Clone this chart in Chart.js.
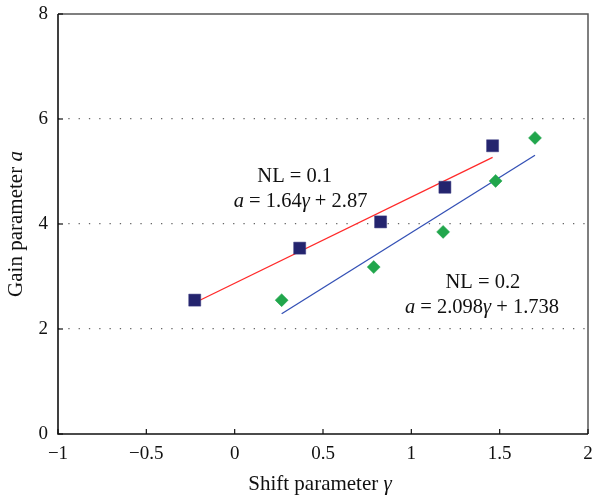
<!DOCTYPE html>
<html>
<head>
<meta charset="utf-8">
<script src="https://cdn.jsdelivr.net/npm/chart.js@4/dist/chart.umd.min.js"></script>
<style>
  html, body { margin: 0; padding: 0; background: #fff; }
  #wrap { width: 592px; height: 499px; position: relative; }
</style>
</head>
<body>
<div id="wrap"><canvas id="gainChart"></canvas></div>
<script>
// ===== DATA =====
const nl01Shift = [-0.226, 0.368, 0.826, 1.19, 1.46];
const nl01Gain  = [2.55, 3.54, 4.04, 4.70, 5.49];
const nl02Shift = [0.266, 0.787, 1.18, 1.477, 1.70];
const nl02Gain  = [2.55, 3.18, 3.85, 4.82, 5.64];

// fitted line end points
const fit01Shift = [-0.226, 1.46];
const fit01Gain  = [2.50, 5.27];
const fit02Shift = [0.266, 1.70];
const fit02Gain  = [2.29, 5.31];

const xTicks = [-1, -0.5, 0, 0.5, 1, 1.5, 2];
const yTicks = [0, 2, 4, 6, 8];

const SERIF = '"Liberation Serif", "DejaVu Serif", serif';

function toPoints(xs, ys) {
    return xs.map((x, i) => ({ x: x, y: ys[i] }));
}

function fmtTick(v) {
    return v < 0 ? '\u2212' + String(-v) : String(v);
}

// draw a line of text made of normal / italic runs, centered at x
function drawRuns(ctx, runs, cx, y, size) {
    let total = 0;
    const widths = runs.map(r => {
        ctx.font = (r[1] ? 'italic ' : '') + size + 'px ' + SERIF;
        const w = ctx.measureText(r[0]).width;
        total += w;
        return w;
    });
    let x = cx - total / 2;
    runs.forEach((r, i) => {
        ctx.font = (r[1] ? 'italic ' : '') + size + 'px ' + SERIF;
        ctx.fillText(r[0], x, y);
        x += widths[i];
    });
}

// ===== FRAME, TICKS, TITLES, ANNOTATIONS =====
const framePlugin = {
    id: 'frame',
    afterDraw(chart) {
        const { ctx, chartArea: a, scales } = chart;
        ctx.save();

        // top / right border (grey)
        ctx.strokeStyle = '#555';
        ctx.lineWidth = 1.5;
        ctx.beginPath();
        ctx.moveTo(a.left, a.top);
        ctx.lineTo(a.right, a.top);
        ctx.lineTo(a.right, a.bottom);
        ctx.stroke();

        // left / bottom axes (black)
        ctx.strokeStyle = '#111';
        ctx.lineWidth = 1.6;
        ctx.beginPath();
        ctx.moveTo(a.left, a.top);
        ctx.lineTo(a.left, a.bottom);
        ctx.lineTo(a.right, a.bottom);
        ctx.stroke();

        // inward tick marks
        ctx.lineWidth = 1.2;
        xTicks.forEach(v => {
            const px = scales.x.getPixelForValue(v);
            ctx.beginPath();
            ctx.moveTo(px, a.bottom);
            ctx.lineTo(px, a.bottom - 5);
            ctx.stroke();
        });
        yTicks.forEach(v => {
            const py = scales.y.getPixelForValue(v);
            ctx.beginPath();
            ctx.moveTo(a.left, py);
            ctx.lineTo(a.left + 5, py);
            ctx.stroke();
        });

        // axis titles
        ctx.fillStyle = '#111';
        ctx.textBaseline = 'alphabetic';
        ctx.textAlign = 'left';
        drawRuns(ctx, [['Shift parameter ', false], ['\u03b3', true]], 320, 490, 21);

        ctx.save();
        ctx.translate(22, (a.top + a.bottom) / 2);
        ctx.rotate(-Math.PI / 2);
        drawRuns(ctx, [['Gain parameter ', false], ['a', true]], 0, 0, 21);
        ctx.restore();

        // fit annotations
        const sx = scales.x, sy = scales.y;
        drawRuns(ctx, [['NL = 0.1', false]], sx.getPixelForValue(0.34), sy.getPixelForValue(4.8), 20.5);
        drawRuns(ctx, [['a', true], [' = 1.64', false], ['\u03b3', true], [' + 2.87', false]],
            sx.getPixelForValue(0.373), sy.getPixelForValue(4.32), 20.5);
        drawRuns(ctx, [['NL = 0.2', false]], sx.getPixelForValue(1.405), sy.getPixelForValue(2.78), 20.5);
        drawRuns(ctx, [['a', true], [' = 2.098', false], ['\u03b3', true], [' + 1.738', false]],
            sx.getPixelForValue(1.40), sy.getPixelForValue(2.30), 20.5);

        ctx.restore();
    }
};

// ===== CHART =====
const ctx = document.getElementById('gainChart');
new Chart(ctx, {
    type: 'scatter',
    data: {
        datasets: [
            {
                label: 'fit NL = 0.1',
                data: toPoints(fit01Shift, fit01Gain),
                showLine: true,
                borderColor: '#ff2a2a',
                borderWidth: 1.3,
                pointRadius: 0,
                order: 2
            },
            {
                label: 'fit NL = 0.2',
                data: toPoints(fit02Shift, fit02Gain),
                showLine: true,
                borderColor: '#3350b5',
                borderWidth: 1.3,
                pointRadius: 0,
                order: 2
            },
            {
                label: 'NL = 0.1',
                data: toPoints(nl01Shift, nl01Gain),
                pointStyle: 'rect',
                pointRadius: 8.5,
                backgroundColor: '#24246e',
                borderColor: '#3a3a80',
                borderWidth: 0.5,
                order: 1
            },
            {
                label: 'NL = 0.2',
                data: toPoints(nl02Shift, nl02Gain),
                pointStyle: 'rectRot',
                pointRadius: 6.5,
                backgroundColor: '#21a64c',
                borderColor: '#21a64c',
                borderWidth: 0.5,
                order: 1
            }
        ]
    },
    options: {
        responsive: true,
        maintainAspectRatio: false,
        animation: false,
        layout: { padding: { top: 14, right: 4, left: 0, bottom: 0 }, autoPadding: false },
        plugins: {
            legend: { display: false },
            tooltip: { enabled: false }
        },
        scales: {
            x: {
                type: 'linear',
                min: -1,
                max: 2,
                afterBuildTicks: s => { s.ticks = xTicks.map(v => ({ value: v })); },
                afterFit: s => { s.height = 65; s.paddingLeft = 0; s.paddingRight = 0; },
                ticks: {
                    padding: 9,
                    color: '#111',
                    font: { family: SERIF, size: 19 },
                    maxRotation: 0,
                    callback: v => fmtTick(v)
                },
                grid: { display: false, drawTicks: false },
                border: { display: false }
            },
            y: {
                type: 'linear',
                min: 0,
                max: 8,
                afterBuildTicks: s => { s.ticks = yTicks.map(v => ({ value: v })); },
                afterFit: s => { s.width = 58; s.paddingTop = 0; s.paddingBottom = 0; },
                ticks: {
                    padding: 10,
                    color: '#111',
                    font: { family: SERIF, size: 19 },
                    callback: v => fmtTick(v)
                },
                grid: {
                    drawTicks: false,
                    lineWidth: 1.3,
                    color: c => (c.tick && (c.tick.value === 0 || c.tick.value === 8)) ? 'rgba(0,0,0,0)' : '#666'
                },
                border: { display: false, dash: [1.3, 9] }
            }
        }
    },
    plugins: [framePlugin]
});
</script>
</body>
</html>
